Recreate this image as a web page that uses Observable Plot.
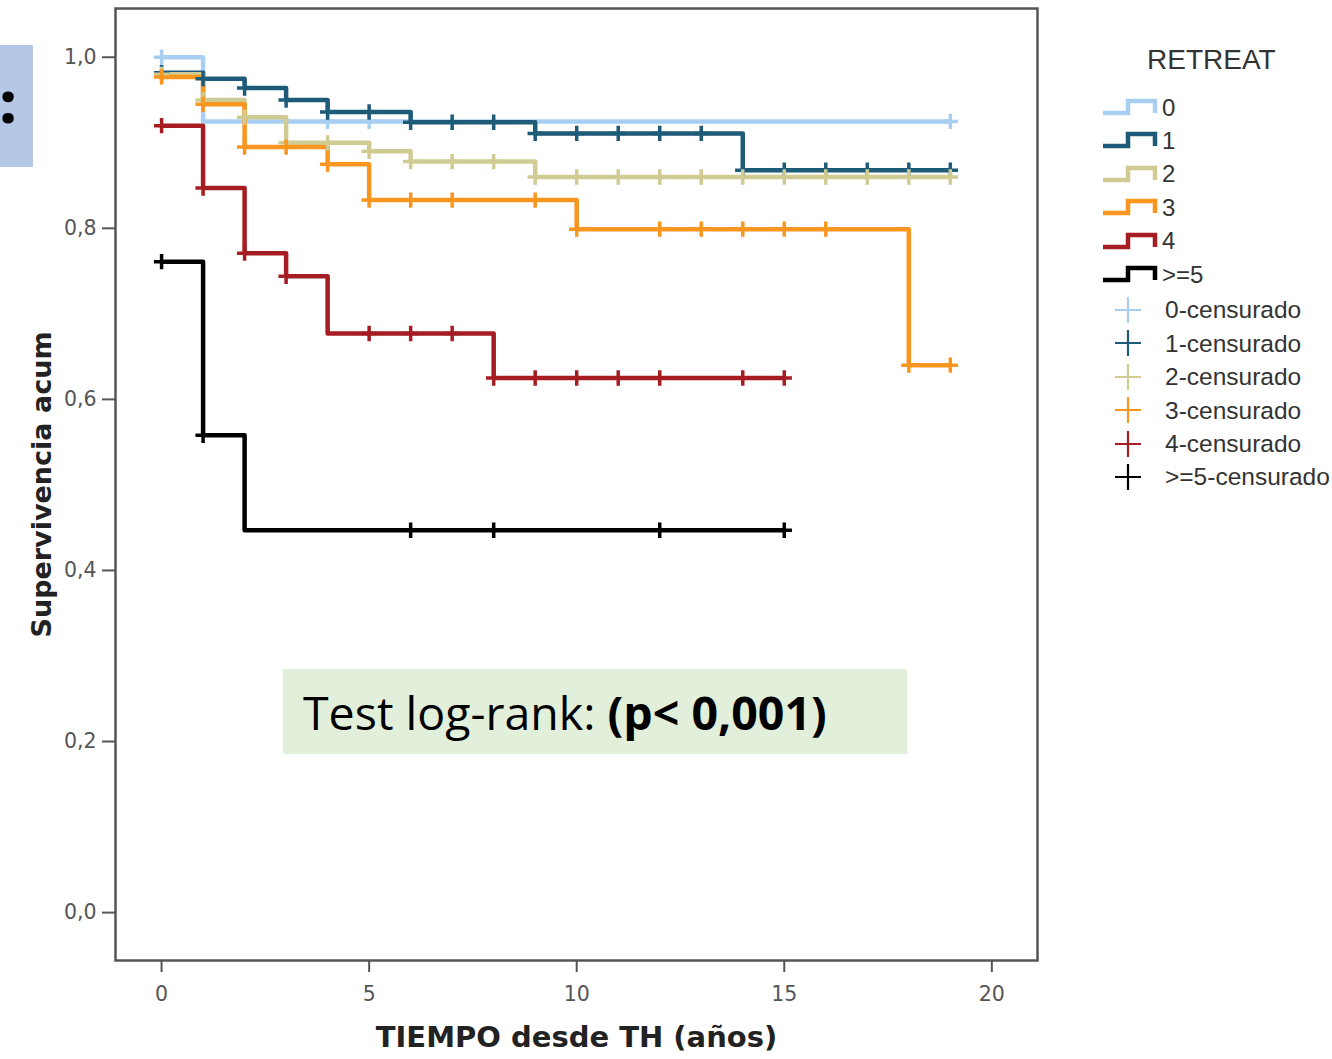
<!DOCTYPE html>
<html>
<head>
<meta charset="utf-8">
<script src="https://cdn.jsdelivr.net/npm/d3@7"></script>
<script src="https://cdn.jsdelivr.net/npm/@observablehq/plot@0.6"></script>
<style>
  html, body { margin: 0; padding: 0; background: #fff; }
  #wrap { position: relative; width: 1332px; height: 1059px; overflow: hidden; background: #fff; }
  #chart { position: absolute; left: 0; top: 0; }
  #chart svg { overflow: visible; }
  .lg { position: absolute; font-family: "Liberation Sans", Arial, sans-serif; color: #333; white-space: nowrap; }
  #slidebox { position: absolute; left: 0; top: 45px; width: 33px; height: 122px; background: #b4c7e7; overflow: hidden; }
  #slidebox span { position: absolute; left: 0; top: 28px; font: 800 56px "Open Sans", sans-serif; color: #000; line-height: 1; }
  #note { position: absolute; left: 283px; top: 669px; width: 624px; height: 85px; background: #e2efda;
          font-family: "Open Sans", sans-serif; font-size: 46.5px; color: #000; display: flex; align-items: center;
          box-sizing: border-box; padding-left: 20px; white-space: nowrap; }
</style>
</head>
<body>
<div id="wrap">
  <div id="slidebox"><span>:</span></div>
  <div id="chart"></div>
  <div id="note"><span>Test log-rank:&nbsp;<b>(p&lt; 0,001)</b></span></div>
</div>
<script>
// ---- data ----
const groups = ["0", "1", "2", "3", "4", ">=5"];
const colors = ["#a8cff2", "#1e5b78", "#cfcb92", "#f8961f", "#a61c23", "#000000"];

const times0 = [0, 1, 19];
const surv0  = [1.000, 0.925, 0.925];
const cens0  = [0, 4, 5, 19];

const times1 = [0, 1, 2, 3, 4, 6, 9, 14, 19];
const surv1  = [0.982, 0.975, 0.964, 0.950, 0.936, 0.924, 0.911, 0.868, 0.868];
const cens1  = [0, 1, 2, 3, 4, 5, 6, 7, 8, 9, 10, 11, 12, 13, 14, 15, 16, 17, 18, 19];

const times2 = [0, 1, 2, 3, 5, 6, 9, 19];
const surv2  = [0.980, 0.950, 0.930, 0.900, 0.890, 0.878, 0.860, 0.860];
const cens2  = [0, 1, 2, 3, 4, 5, 6, 7, 8, 9, 10, 11, 12, 13, 14, 15, 16, 17, 18, 19];

const times3 = [0, 1, 2, 4, 5, 10, 18, 19];
const surv3  = [0.977, 0.945, 0.895, 0.875, 0.833, 0.799, 0.640, 0.640];
const cens3  = [0, 1, 2, 3, 4, 5, 6, 7, 9, 10, 12, 13, 14, 15, 16, 18, 19];

const times4 = [0, 1, 2, 3, 4, 8, 15];
const surv4  = [0.920, 0.847, 0.771, 0.744, 0.677, 0.625, 0.625];
const cens4  = [0, 1, 2, 3, 5, 6, 7, 8, 9, 10, 11, 12, 14, 15];

const times5 = [0, 1, 2, 15];
const surv5  = [0.761, 0.558, 0.447, 0.447];
const cens5  = [0, 1, 6, 8, 12, 15];

const xTicks = [0, 5, 10, 15, 20];
const yTicks = [0, 0.2, 0.4, 0.6, 0.8, 1.0];
const xLabel = "TIEMPO desde TH (años)";
const yLabel = "Supervivencia acum";
const legendTitle = "RETREAT";
const censLabels = ["0-censurado", "1-censurado", "2-censurado", "3-censurado", "4-censurado", ">=5-censurado"];

// ---- build tables ----
const allTimes = [times0, times1, times2, times3, times4, times5];
const allSurv  = [surv0, surv1, surv2, surv3, surv4, surv5];
const allCens  = [cens0, cens1, cens2, cens3, cens4, cens5];

const steps = [];
const marks = [];
groups.forEach((g, i) => {
  allTimes[i].forEach((t, j) => steps.push({g, t, s: allSurv[i][j]}));
  allCens[i].forEach(t => {
    let v = allSurv[i][0];
    allTimes[i].forEach((tt, j) => { if (tt <= t) v = allSurv[i][j]; });
    marks.push({g, t, s: v});
  });
});

const chart = Plot.plot({
  width: 1060,
  height: 1059,
  marginLeft: 115,
  marginRight: 23,
  marginTop: 8,
  marginBottom: 99,
  x: {domain: [-1.11, 21.1]},
  y: {domain: [-0.056, 1.057]},
  color: {domain: groups, range: colors},
  style: {fontFamily: "DejaVu Sans, sans-serif", fontSize: "20px", color: "#555", background: "transparent"},
  marks: [
    Plot.axisX({ticks: xTicks, tickSize: 12, tickPadding: 14, strokeWidth: 2, tickFormat: d => String(d), label: null, fontSize: 20.5}),
    Plot.axisY({ticks: yTicks, tickSize: 13, tickPadding: 6, strokeWidth: 2, tickFormat: d => d.toFixed(1).replace(".", ","), label: null, fontSize: 20.5}),
    Plot.frame({stroke: "#555", strokeWidth: 2.5}),
    Plot.line(steps, {x: "t", y: "s", z: "g", stroke: "g", curve: "step-after", strokeWidth: 4.5}),
    Plot.dot(marks, {x: "t", y: "s", stroke: "g", symbol: "plus", r: 5, strokeWidth: 3.5}),
    Plot.text([yLabel], {text: d => d, frameAnchor: "left", dx: -73, rotate: -90, textAnchor: "middle", lineAnchor: "middle", fontSize: 27, fontWeight: "bold", fill: "#222"}),
    Plot.text([xLabel], {text: d => d, frameAnchor: "bottom", dy: 77, textAnchor: "middle", lineAnchor: "middle", fontSize: 29, fontWeight: "bold", fill: "#222"})
  ]
});
document.getElementById("chart").appendChild(chart);

// ---- legend (HTML) ----
const wrap = document.getElementById("wrap");
function addDiv(html, left, centerY, size) {
  const d = document.createElement("div");
  d.className = "lg";
  d.style.left = left + "px";
  d.style.top = (centerY - size * 0.6) + "px";
  d.style.fontSize = size + "px";
  d.style.lineHeight = (size * 1.2) + "px";
  d.innerHTML = html;
  wrap.appendChild(d);
  return d;
}
addDiv(legendTitle, 1147, 60, 28);
const rowGap = 33.4;
groups.forEach((g, i) => {
  const cy = 107 + i * rowGap;
  const s = document.createElementNS("http://www.w3.org/2000/svg", "svg");
  s.setAttribute("width", 60); s.setAttribute("height", 22);
  s.style.position = "absolute"; s.style.left = "1100px"; s.style.top = (cy - 11) + "px";
  s.innerHTML = `<path d="M3,17 H28 V5 H55 V17" fill="none" stroke="${colors[i]}" stroke-width="4.5" stroke-linejoin="miter"/>`;
  wrap.appendChild(s);
  addDiv(g.replace(">", "&gt;"), 1162, cy + 1, 24);
});
censLabels.forEach((lab, i) => {
  const cy = 310 + i * rowGap;
  const s = document.createElementNS("http://www.w3.org/2000/svg", "svg");
  s.setAttribute("width", 30); s.setAttribute("height", 30);
  s.style.position = "absolute"; s.style.left = "1113px"; s.style.top = (cy - 15) + "px";
  s.innerHTML = `<path d="M2,15 H28 M15,2 V28" fill="none" stroke="${colors[i]}" stroke-width="2.2"/>`;
  wrap.appendChild(s);
  addDiv(lab.replace(">", "&gt;"), 1165, cy, 24.5);
});
</script>
</body>
</html>
